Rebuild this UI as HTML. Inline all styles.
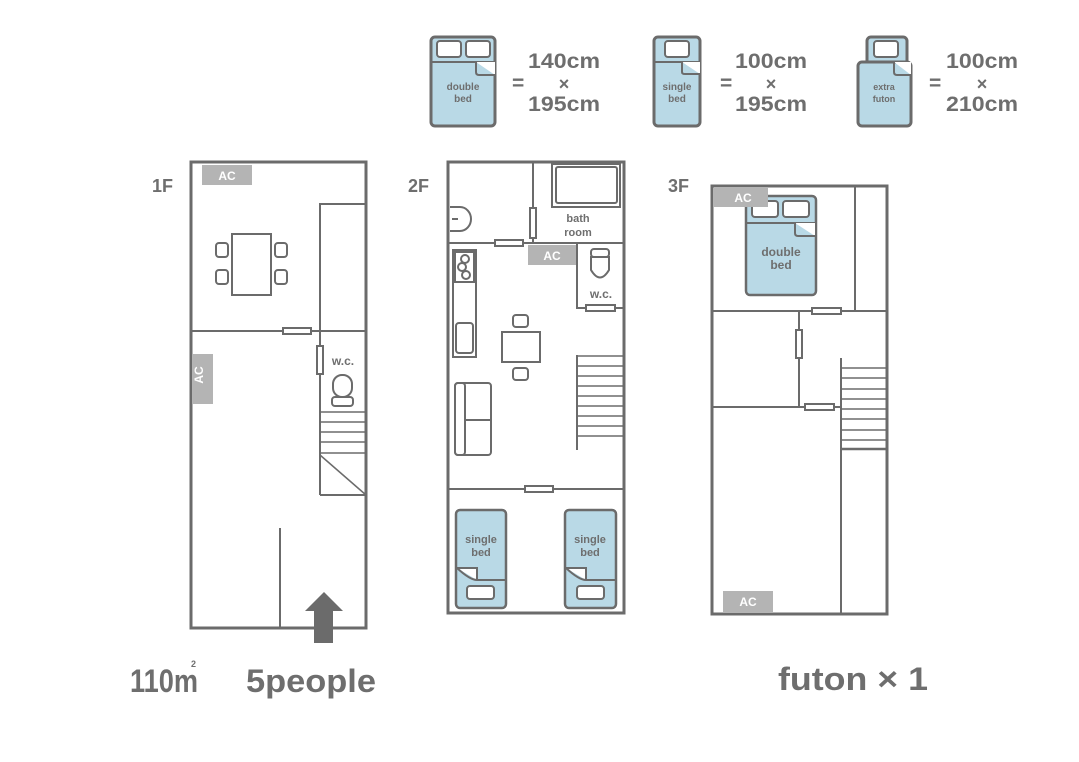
<!DOCTYPE html>
<html><head><meta charset="utf-8"><style>
body{margin:0;background:#fff;}
svg{display:block;}
text{font-family:"Liberation Sans",sans-serif;font-weight:bold;fill:#6e6e6e;}
</style></head><body>
<svg width="1079" height="762" viewBox="0 0 1079 762" xmlns="http://www.w3.org/2000/svg">
<g stroke="#6b6b6b" fill="none" stroke-width="2">
<rect x="431" y="37" width="64" height="89" rx="4" fill="#b9d9e6" stroke-width="3"/>
<line x1="431" y1="62" x2="495" y2="62"/>
<rect x="437" y="41" width="24" height="16" rx="3" fill="#fff"/>
<rect x="466" y="41" width="24" height="16" rx="3" fill="#fff"/>
<path d="M476 62 L495 62 L495 75 Z" fill="#fff" stroke="none"/>
<path d="M476 62 L476 72 Q476 75 479 75 L495 75"/>
<rect x="654" y="37" width="46" height="89" rx="4" fill="#b9d9e6" stroke-width="3"/>
<line x1="654" y1="62" x2="700" y2="62"/>
<rect x="665" y="41" width="24" height="16" rx="3" fill="#fff"/>
<path d="M682 62 L700 62 L700 74 Z" fill="#fff" stroke="none"/>
<path d="M682 62 L682 72 Q682 74 685 74 L700 74"/>
<rect x="867" y="37" width="40" height="40" rx="4" fill="#b9d9e6" stroke-width="3"/>
<rect x="874" y="41" width="24" height="16" rx="3" fill="#fff"/>
<rect x="858" y="62" width="53" height="64" rx="4" fill="#b9d9e6" stroke-width="3"/>
<path d="M894 62 L911 62 L911 75 Z" fill="#fff" stroke="none"/>
<path d="M894 62 L894 72 Q894 75 897 75 L911 75"/>
</g>
<text x="463" y="90" font-size="10" text-anchor="middle" font-weight="normal">double</text>
<text x="463" y="102" font-size="10" text-anchor="middle" font-weight="normal">bed</text>
<text x="677" y="90" font-size="10" text-anchor="middle" font-weight="normal">single</text>
<text x="677" y="102" font-size="10" text-anchor="middle" font-weight="normal">bed</text>
<text x="884" y="90" font-size="9" text-anchor="middle" font-weight="normal">extra</text>
<text x="884" y="102" font-size="9" text-anchor="middle" font-weight="normal">futon</text>
<g font-size="21">
<text x="512" y="90">=</text><text x="528" y="68" textLength="72" lengthAdjust="spacingAndGlyphs">140cm</text><text x="564" y="90" font-size="18" text-anchor="middle">×</text><text x="528" y="111" textLength="72" lengthAdjust="spacingAndGlyphs">195cm</text>
<text x="720" y="90">=</text><text x="735" y="68" textLength="72" lengthAdjust="spacingAndGlyphs">100cm</text><text x="771" y="90" font-size="18" text-anchor="middle">×</text><text x="735" y="111" textLength="72" lengthAdjust="spacingAndGlyphs">195cm</text>
<text x="929" y="90">=</text><text x="946" y="68" textLength="72" lengthAdjust="spacingAndGlyphs">100cm</text><text x="982" y="90" font-size="18" text-anchor="middle">×</text><text x="946" y="111" textLength="72" lengthAdjust="spacingAndGlyphs">210cm</text>
</g>

<text x="152" y="192" font-size="18">1F</text>
<text x="408" y="192" font-size="18">2F</text>
<text x="668" y="192" font-size="18">3F</text>

<g stroke="#6b6b6b" fill="none" stroke-width="2">
<rect x="191" y="162" width="175" height="466" stroke-width="3"/>
<line x1="191" y1="331" x2="366" y2="331"/>
<polyline points="320,495 320,204 366,204"/>
<line x1="320" y1="495" x2="366" y2="495"/>
<g stroke-width="1.5">
<line x1="320" y1="412" x2="366" y2="412"/><line x1="320" y1="422" x2="366" y2="422"/>
<line x1="320" y1="432" x2="366" y2="432"/><line x1="320" y1="442" x2="366" y2="442"/>
<line x1="320" y1="453" x2="366" y2="453"/><line x1="320" y1="455" x2="366" y2="495"/>
</g>
<line x1="280" y1="528" x2="280" y2="628"/>
<rect x="283" y="328" width="28" height="6" fill="#fff"/>
<rect x="317" y="346" width="6" height="28" fill="#fff"/>
<rect x="232" y="234" width="39" height="61"/>
<rect x="216" y="243" width="12" height="14" rx="3"/><rect x="216" y="270" width="12" height="14" rx="3"/>
<rect x="275" y="243" width="12" height="14" rx="3"/><rect x="275" y="270" width="12" height="14" rx="3"/>
<rect x="333" y="375" width="19" height="22" rx="9"/><rect x="332" y="397" width="21" height="9" rx="3"/>
</g>
<path d="M324 592 L343 611 L333 611 L333 643 L314 643 L314 611 L305 611 Z" fill="#6b6b6b"/>
<rect x="202" y="165" width="50" height="20" fill="#b4b4b4"/>
<text x="227" y="180" font-size="12" text-anchor="middle" style="fill:#fff">AC</text>
<rect x="193" y="354" width="20" height="50" fill="#b4b4b4"/>
<text x="207" y="379" font-size="12" text-anchor="middle" transform="rotate(-90 203 379)" style="fill:#fff">AC</text>
<text x="343" y="365" font-size="12" text-anchor="middle" font-weight="normal">w.c.</text>

<g stroke="#6b6b6b" fill="none" stroke-width="2">
<rect x="448" y="162" width="176" height="451" stroke-width="3"/>
<line x1="533" y1="162" x2="533" y2="243"/>
<line x1="448" y1="243" x2="624" y2="243"/>
<rect x="552" y="164" width="68" height="43"/><rect x="556" y="167" width="61" height="36" rx="2"/>
<path d="M450 207 L460 207 A11 12 0 0 1 460 231 L450 231"/>
<line x1="452" y1="219" x2="458" y2="219"/>
<rect x="530" y="208" width="6" height="30" fill="#fff"/>
<rect x="495" y="240" width="28" height="6" fill="#fff"/>
<polyline points="577,243 577,308 624,308"/>
<rect x="586" y="305" width="29" height="6" fill="#fff"/>
<rect x="591" y="249" width="18" height="8" rx="3"/><path d="M591 257 L609 257 L609 270 Q600 285 591 270 Z"/>
<rect x="453" y="250" width="23" height="107"/>
<rect x="455" y="252" width="19" height="30"/>
<circle cx="465" cy="259" r="4"/><circle cx="462" cy="267" r="4"/><circle cx="466" cy="275" r="4"/>
<rect x="456" y="323" width="17" height="30" rx="3"/>
<rect x="502" y="332" width="38" height="30"/>
<rect x="513" y="315" width="15" height="12" rx="3"/><rect x="513" y="368" width="15" height="12" rx="3"/>
<rect x="455" y="383" width="36" height="72" rx="3"/><rect x="455" y="383" width="10" height="72" rx="3"/>
<line x1="465" y1="420" x2="491" y2="420"/>
<line x1="577" y1="355" x2="577" y2="450"/>
<g stroke-width="1.5">
<line x1="577" y1="356" x2="624" y2="356"/><line x1="577" y1="366" x2="624" y2="366"/>
<line x1="577" y1="376" x2="624" y2="376"/><line x1="577" y1="386" x2="624" y2="386"/>
<line x1="577" y1="396" x2="624" y2="396"/><line x1="577" y1="406" x2="624" y2="406"/>
<line x1="577" y1="416" x2="624" y2="416"/><line x1="577" y1="426" x2="624" y2="426"/>
<line x1="577" y1="436" x2="624" y2="436"/>
</g>
<line x1="448" y1="489" x2="624" y2="489"/>
<rect x="525" y="486" width="28" height="6" fill="#fff"/>
<rect x="456" y="510" width="50" height="98" rx="4" fill="#b9d9e6" stroke-width="2.5"/>
<line x1="478" y1="580" x2="506" y2="580"/>
<path d="M457 568 L477 568 L477 580 Z" fill="#fff" stroke="none"/>
<path d="M457 568 L477 568 L477 580 Q470 580 457 568"/>
<rect x="467" y="586" width="27" height="13" rx="3" fill="#fff"/>
<rect x="565" y="510" width="51" height="98" rx="4" fill="#b9d9e6" stroke-width="2.5"/>
<line x1="587" y1="580" x2="616" y2="580"/>
<path d="M566 568 L586 568 L586 580 Z" fill="#fff" stroke="none"/>
<path d="M566 568 L586 568 L586 580 Q579 580 566 568"/>
<rect x="577" y="586" width="27" height="13" rx="3" fill="#fff"/>
</g>
<rect x="528" y="245" width="48" height="20" fill="#b4b4b4"/>
<text x="552" y="260" font-size="12" text-anchor="middle" style="fill:#fff">AC</text>
<text x="578" y="222" font-size="11" text-anchor="middle" font-weight="normal">bath</text>
<text x="578" y="236" font-size="11" text-anchor="middle" font-weight="normal">room</text>
<text x="601" y="298" font-size="12" text-anchor="middle" font-weight="normal">w.c.</text>
<text x="481" y="543" font-size="11" text-anchor="middle" font-weight="normal">single</text>
<text x="481" y="556" font-size="11" text-anchor="middle" font-weight="normal">bed</text>
<text x="590" y="543" font-size="11" text-anchor="middle" font-weight="normal">single</text>
<text x="590" y="556" font-size="11" text-anchor="middle" font-weight="normal">bed</text>

<g stroke="#6b6b6b" fill="none" stroke-width="2">
<rect x="712" y="186" width="175" height="428" stroke-width="3"/>
<line x1="855" y1="186" x2="855" y2="311"/>
<line x1="712" y1="311" x2="887" y2="311"/>
<rect x="812" y="308" width="29" height="6" fill="#fff"/>
<line x1="799" y1="311" x2="799" y2="407"/>
<rect x="796" y="330" width="6" height="28" fill="#fff"/>
<line x1="712" y1="407" x2="841" y2="407"/>
<rect x="805" y="404" width="29" height="6" fill="#fff"/>
<line x1="841" y1="358" x2="841" y2="614"/>
<g stroke-width="1.5">
<line x1="841" y1="368" x2="887" y2="368"/><line x1="841" y1="378" x2="887" y2="378"/>
<line x1="841" y1="389" x2="887" y2="389"/><line x1="841" y1="399" x2="887" y2="399"/>
<line x1="841" y1="409" x2="887" y2="409"/><line x1="841" y1="419" x2="887" y2="419"/>
<line x1="841" y1="430" x2="887" y2="430"/><line x1="841" y1="440" x2="887" y2="440"/>
</g>
<line x1="841" y1="449" x2="887" y2="449" stroke-width="2.5"/>
<rect x="746" y="196" width="70" height="99" rx="4" fill="#b9d9e6" stroke-width="2.5"/>
<line x1="746" y1="223" x2="816" y2="223"/>
<rect x="752" y="201" width="26" height="16" rx="3" fill="#fff"/>
<rect x="783" y="201" width="26" height="16" rx="3" fill="#fff"/>
<path d="M795 223 L815 223 L815 236 Z" fill="#fff" stroke="none"/>
<path d="M795 223 L795 233 Q795 236 798 236 L815 236"/>
</g>
<rect x="714" y="188" width="54" height="19" fill="#b4b4b4"/>
<text x="743" y="202" font-size="12" text-anchor="middle" style="fill:#fff">AC</text>
<rect x="723" y="591" width="50" height="21" fill="#b4b4b4"/>
<text x="748" y="606" font-size="12" text-anchor="middle" style="fill:#fff">AC</text>
<text x="781" y="256" font-size="12" text-anchor="middle" font-weight="normal">double</text>
<text x="781" y="269" font-size="12" text-anchor="middle" font-weight="normal">bed</text>

<text x="130" y="692" font-size="32" textLength="68" lengthAdjust="spacingAndGlyphs">110m</text>
<text x="191" y="667" font-size="9">2</text>
<text x="246" y="692" font-size="32" textLength="130" lengthAdjust="spacingAndGlyphs">5people</text>
<text x="778" y="690" font-size="32" textLength="150" lengthAdjust="spacingAndGlyphs">futon × 1</text>
</svg>
</body></html>
